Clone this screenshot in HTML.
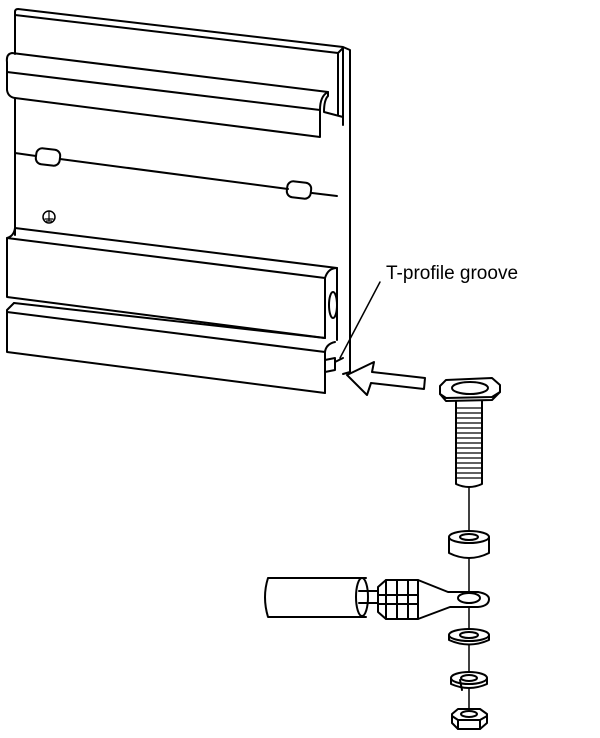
<!DOCTYPE html>
<html><head><meta charset="utf-8"><style>
html,body{margin:0;padding:0;background:#fff;width:600px;height:738px;overflow:hidden}
svg{display:block}
</style></head><body>
<svg width="600" height="738" viewBox="0 0 600 738" xmlns="http://www.w3.org/2000/svg" fill="none" stroke="#000" stroke-width="2" stroke-linejoin="round" stroke-linecap="round">
<!-- rail back plate -->
<path d="M15,12 L15,54"/>
<path d="M15,12 Q15,9 18,9 L343,47 L350,50 L350,372 L343,374"/>
<path d="M15,15 L338,53 L343,48"/>
<path d="M338,53 L338,115"/>
<path d="M343,48 L343,125"/>
<!-- top flange -->
<path d="M328,92 L12,53 Q6,54 7,62 L7,72 L320,110"/>
<path d="M7,72 L7,90 Q8,97 15,98 L320,137 L320,110"/>
<path d="M320,110 Q320,96 328,92 L328,96 Q324,100 324,112 L343,117"/>
<path d="M15,98 L15,235"/>
<!-- mid line with slots -->
<path d="M15,153 L36,156"/>
<path d="M60,159 L288,189"/>
<path d="M312,193 L337,196"/>
<rect x="36" y="149" width="24" height="16" rx="6" transform="rotate(7 48 157)"/>
<rect x="287" y="182" width="24" height="16" rx="6" transform="rotate(7 299 190)"/>
<!-- earth symbol -->
<circle cx="49" cy="217" r="6" stroke-width="1.5"/>
<path d="M49,211 L49,221 M45,219 L53,219 M46.5,221 L51.5,221" stroke-width="1.2"/>
<!-- lower flange -->
<path d="M15,228 Q14,236 7,238 L7,297 L325,338"/>
<path d="M15,228 L337,268"/>
<path d="M7,238 L325,278 L325,338"/>
<path d="M325,278 Q328,268 337,268 L337,340"/>
<ellipse cx="333" cy="305" rx="4" ry="13"/>
<!-- bottom section -->
<path d="M14,303 L7,310 L7,352 L325,393"/>
<path d="M14,303 L325,338"/>
<path d="M7,312 L325,352 Q326,344 335,342"/>
<path d="M325,352 L325,393"/>
<path d="M325,360 L335,358 L335,370 L325,372 Z"/>
<path d="M335,362 L343,358"/>
<!-- leader -->
<path d="M340,358 L380,282" stroke-width="1.5"/>
<text x="386" y="279" font-family="Liberation Sans, sans-serif" font-size="19" fill="#000" stroke="none">T-profile groove</text>
<!-- arrow -->
<path d="M347,375 L374,362 L372,372 L425,378 L424,389 L371,383 L367,395 Z" fill="#fff"/>
<!-- bolt head -->
<path d="M446,380 L492,378 L500,385 L500,392 L492,400 L446,401 L440,394 L440,386 Z" fill="#fff"/>
<path d="M440,394 L446,398 L492,397 L500,392"/>
<ellipse cx="470" cy="388" rx="18" ry="6"/>
<!-- shank -->
<path d="M456,401 L456,484 Q469,490 482,484 L482,401"/>
<g stroke-width="1.2">
<path d="M456,408 L482,408 M456,413 L482,413 M456,418 L482,418 M456,423 L482,423 M456,428 L482,428 M456,433 L482,433 M456,438 L482,438 M456,443 L482,443 M456,448 L482,448 M456,453 L482,453 M456,458 L482,458 M456,463 L482,463 M456,468 L482,468 M456,473 L482,473 M456,478 L482,478"/>
</g>
<path d="M469,487 L469,722" stroke-width="1.5"/>
<!-- spacer -->
<path d="M449,537 L449,553 Q469,563 489,553 L489,537" fill="#fff"/>
<ellipse cx="469" cy="537" rx="20" ry="6" fill="#fff"/>
<ellipse cx="469" cy="537" rx="9" ry="3"/>
<!-- cable -->
<path d="M366,578 L268,578 Q262,597 268,617 L366,617"/>
<ellipse cx="362" cy="597" rx="6" ry="19" fill="#fff"/>
<path d="M359,591 L378,591 M359,603 L378,603"/>
<!-- crimp -->
<path d="M378,587 L386,580 L418,580 L448,592 L460,592 L478,592 Q489,594 489,599 Q489,606 478,607 L450,607 L418,619 L386,619 L378,612 Z" fill="#fff"/>
<path d="M386,580 L386,619 M397,580 L397,619 M408,580 L408,619 M418,580 L418,619 M378,595 L418,595 M378,604 L418,604"/>
<ellipse cx="469" cy="598" rx="11" ry="5"/>
<!-- washer -->
<path d="M449,635 L449,640 Q469,649 489,640 L489,635" fill="#fff"/>
<ellipse cx="469" cy="635" rx="20" ry="6" fill="#fff"/>
<ellipse cx="469" cy="635" rx="9" ry="3"/>
<!-- spring washer -->
<path d="M451,678 L451,684 Q469,692 487,684 L487,678" fill="#fff"/>
<ellipse cx="469" cy="678" rx="18" ry="6" fill="#fff"/>
<ellipse cx="469" cy="678" rx="8" ry="3"/>
<path d="M460,680 L462,690"/>
<!-- nut -->
<path d="M452,714 L458,709 L480,709 L487,714 L487,723 L480,729 L458,729 L452,723 Z" fill="#fff"/>
<path d="M452,716 L458,720 L480,720 L487,716 M458,720 L458,729 M480,720 L480,729"/>
<ellipse cx="469" cy="714" rx="8" ry="3"/>
</svg>
</body></html>
